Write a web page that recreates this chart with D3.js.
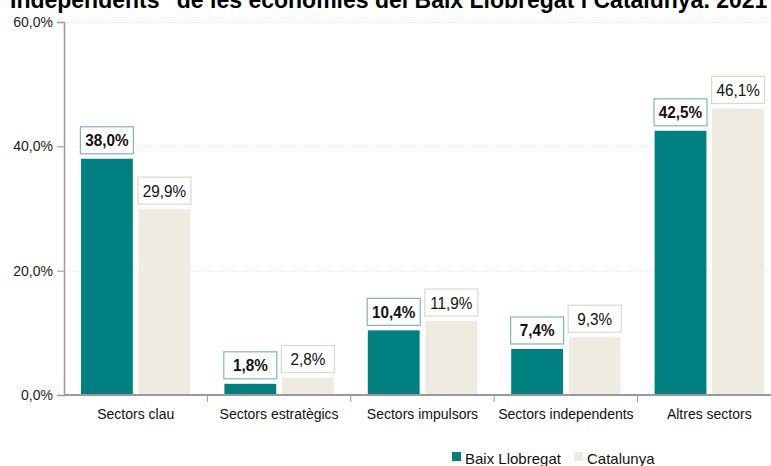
<!DOCTYPE html>
<html>
<head>
<meta charset="utf-8">
<script src="https://d3js.org/d3.v7.min.js"></script>
<style>
body { margin: 0; background: #fff; }
svg { display: block; font-family: "Liberation Sans Narrow", "Arial Narrow", Arial, sans-serif; }
</style>
</head>
<body>
<div id="chart"></div>
<script>
// chart values
var categories = ["Sectors clau", "Sectors estratègics", "Sectors impulsors", "Sectors independents", "Altres sectors"];
var seriesNames = ["Baix Llobregat", "Catalunya"];
var baixLlobregat = [38.0, 1.8, 10.4, 7.4, 42.5];
var catalunya = [29.9, 2.8, 11.9, 9.3, 46.1];
var yTicks = [0, 20, 40, 60];
var colors = ["#008080", "#eeebe0"];
var labelBorders = ["#7fb4c4", "#ddd9c6"];

var width = 771, height = 466;
var margin = {top: 22, left: 64, bottom: 71};

var svg = d3.select("#chart").append("svg")
  .attr("width", width)
  .attr("height", height);

var fmt = function(v) { return d3.format(".1f")(v).replace(".", ",") + "%"; };

// title (only its second line shows, cut at the top as in the original)
svg.append("text")
  .attr("x", 10)
  .attr("y", 8)
  .style("font-family", "'Liberation Sans', Arial, sans-serif")
  .style("font-weight", "bold")
  .style("font-size", "23px")
  .text("Independents\" de les economies del Baix Llobregat i Catalunya. 2021");

var y = d3.scaleLinear().domain([0, 60]).range([height - margin.bottom, margin.top]);

// bands run a bit past the right edge, like the original
var x = d3.scaleBand().domain(categories).range([margin.left, 781]);
var inner = d3.scaleBand().domain(seriesNames).range([17, x.bandwidth() - 17]).paddingInner(0.1);

// dotted gridlines
svg.append("g").selectAll("line")
  .data(yTicks.filter(function(d) { return d > 0; }))
  .join("line")
    .attr("x1", margin.left)
    .attr("x2", width)
    .attr("y1", function(d) { return y(d) + 0.5; })
    .attr("y2", function(d) { return y(d) + 0.5; })
    .attr("stroke", "#e3dfd0")
    .attr("stroke-dasharray", "1,2");

// y axis
var yAxis = svg.append("g")
  .attr("transform", "translate(" + margin.left + ",0)")
  .call(d3.axisLeft(y).tickValues(yTicks).tickFormat(fmt).tickSize(7).tickPadding(4));
yAxis.select(".domain").attr("stroke", "#999").attr("stroke-width", 1.5);
yAxis.selectAll(".tick line").attr("stroke", "#999");
yAxis.selectAll("text").style("font-size", "14px").attr("fill", "#222")
  .style("font-family", "'Liberation Sans Narrow', 'Arial Narrow', Arial, sans-serif");

var rows = categories.map(function(c, i) {
  return {cat: c, values: [baixLlobregat[i], catalunya[i]]};
});

var groups = svg.append("g").selectAll("g")
  .data(rows)
  .join("g")
    .attr("transform", function(d) { return "translate(" + x(d.cat) + ",0)"; });

groups.selectAll("rect")
  .data(function(d) { return d.values.map(function(v, j) { return {s: seriesNames[j], v: v, j: j}; }); })
  .join("rect")
    .attr("x", function(d) { return inner(d.s); })
    .attr("width", inner.bandwidth())
    .attr("y", function(d) { return y(d.v); })
    .attr("height", function(d) { return y(0) - y(d.v); })
    .attr("fill", function(d) { return colors[d.j]; });

// boxed labels
var lab = groups.selectAll("g.lab")
  .data(function(d) { return d.values.map(function(v, j) { return {s: seriesNames[j], v: v, j: j}; }); })
  .join("g")
    .attr("class", "lab")
    .attr("transform", function(d) {
      return "translate(" + (inner(d.s) + inner.bandwidth() / 2) + "," + (y(d.v) - 5) + ")";
    });

lab.append("rect")
  .attr("x", -26.5)
  .attr("y", -27)
  .attr("width", 53)
  .attr("height", 27)
  .attr("fill", "#fff")
  .attr("stroke", function(d) { return labelBorders[d.j]; })
  .attr("stroke-width", 1.2);

// squeeze the label text a little, the original uses a narrow face
lab.append("text")
  .attr("text-anchor", "middle")
  .attr("transform", "translate(0,-7.5) scale(0.9,1)")
  .style("font-size", "17px")
  .style("font-weight", function(d) { return d.j === 0 ? "bold" : "normal"; })
  .attr("fill", "#111")
  .text(function(d) { return fmt(d.v); });

// x axis
var xAxis = svg.append("g")
  .attr("transform", "translate(0," + y(0) + ")");
xAxis.append("line")
  .attr("x1", margin.left).attr("x2", width)
  .attr("stroke", "#999").attr("stroke-width", 2);
xAxis.selectAll("line.tk")
  .data(categories.slice(1))
  .join("line")
    .attr("class", "tk")
    .attr("x1", function(d) { return x(d); })
    .attr("x2", function(d) { return x(d); })
    .attr("y1", 0).attr("y2", 7)
    .attr("stroke", "#999");
xAxis.selectAll("text")
  .data(categories)
  .join("text")
    .attr("x", function(d) { return x(d) + x.bandwidth() / 2; })
    .attr("y", 24)
    .attr("text-anchor", "middle")
    .style("font-size", "14px")
    .attr("fill", "#111")
    .text(function(d) { return d; });

// legend
var legend = svg.append("g").attr("transform", "translate(452,452)");
var legX = [0, 122];
seriesNames.forEach(function(s, i) {
  legend.append("rect")
    .attr("x", legX[i]).attr("y", 0)
    .attr("width", 9).attr("height", 9)
    .attr("fill", colors[i]);
  legend.append("text")
    .attr("x", legX[i] + 13).attr("y", 12)
    .style("font-size", "15px")
    .attr("fill", "#111")
    .text(s);
});
</script>
</body>
</html>
